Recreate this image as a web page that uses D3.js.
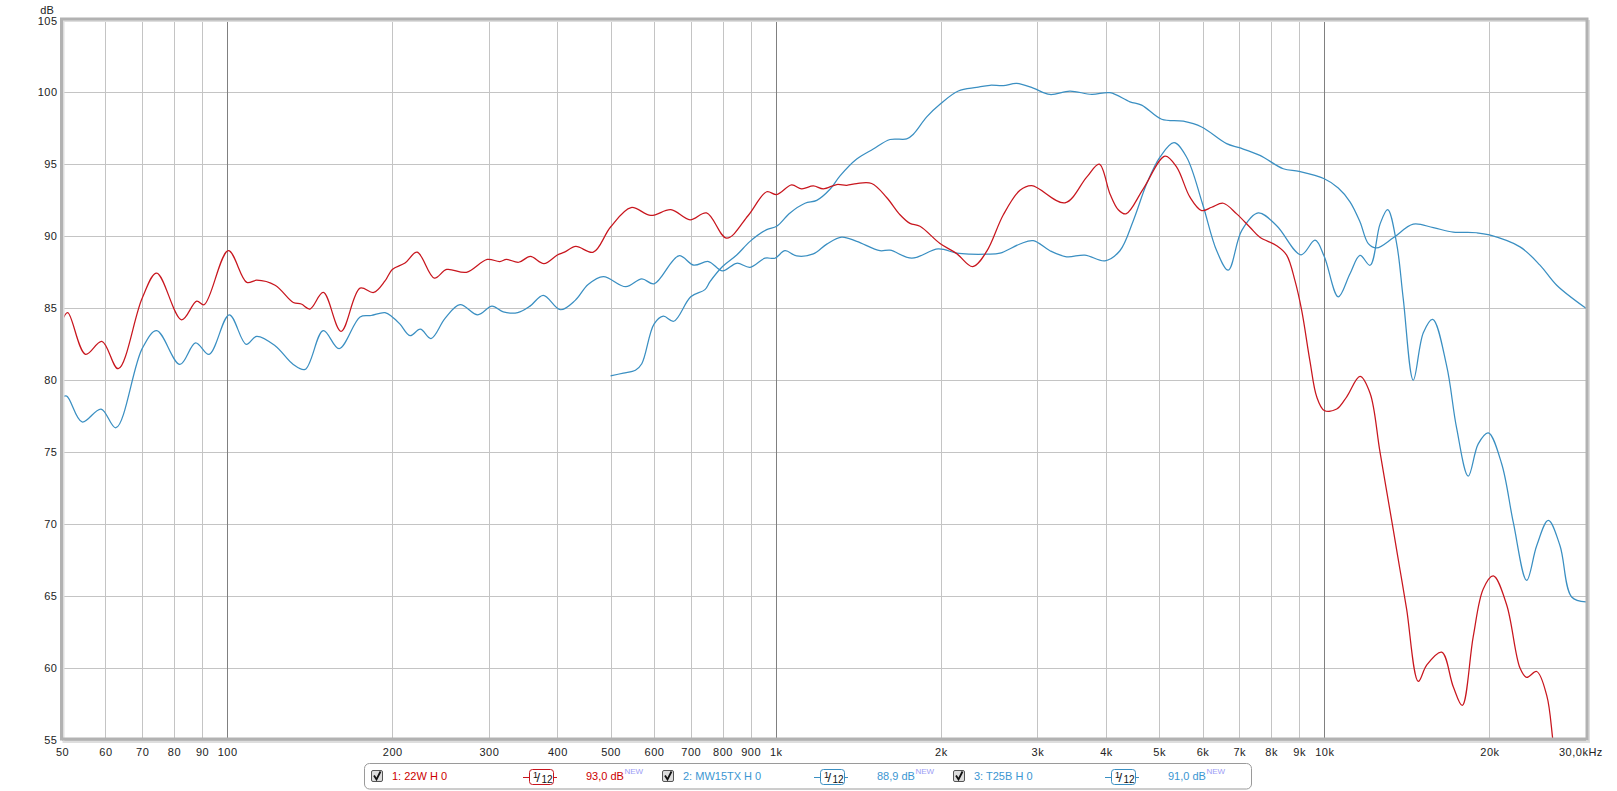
<!DOCTYPE html>
<html>
<head>
<meta charset="utf-8">
<script src="https://cdn.jsdelivr.net/npm/d3@7"></script>
<style>
  html, body { margin: 0; padding: 0; background: #ffffff; }
  svg { display: block; }
  text { font-family: "Liberation Sans", Arial, sans-serif; }
</style>
</head>
<body>
<svg id="chart" width="1617" height="791"></svg>
<script>
// ---------------- DATA ----------------
const freqTicks = [50,60,70,80,90,100,200,300,400,500,600,700,800,900,1000,2000,3000,4000,5000,6000,7000,8000,9000,10000,20000,30000];
const freqLabels = ["50","60","70","80","90","100","200","300","400","500","600","700","800","900","1k","2k","3k","4k","5k","6k","7k","8k","9k","10k","20k","30,0kHz"];
const dbTicks = [55,60,65,70,75,80,85,90,95,100,105];
const dbLabels = ["55","60","65","70","75","80","85","90","95","100","105"];

const f22W = [50,51.2,55.2,59.1,63.3,70,74.4,82.6,88,90.8,100.5,108.6,113.2,122.3,132,136.5,141.6,149.7,161.3,174.7,185,194,200,211,222,238.6,251.3,273,298,314,323,340,357,378,400,412,432,465,500,545,592,644,698,748,814,891,963,1004,1069,1115,1171,1221,1292,1347,1405,1496,1593,1685,1757,1832,1993,2138,2286,2424,2600,2788,2929,3367,3689,3889,4068,4212,4350,4678,5125,5382,5691,5977,6234,6545,6923,7320,7633,8189,8539,8845,9096,9420,9688,10000,10537,10988,11620,12120,12637,13361,13740,14130,14840,15370,16370,17185,17845,18690,19490,20330,21500,22740,23385,24390,25440,26085,26600];
const db22W = [84.1,84.7,81.8,82.7,80.8,85.7,87.45,84.2,85.5,85.25,89.0,86.8,86.95,86.6,85.4,85.3,84.95,86.1,83.4,86.4,86.1,86.9,87.7,88.15,88.9,87.1,87.7,87.5,88.4,88.25,88.4,88.2,88.6,88.1,88.7,88.9,89.3,88.9,90.65,92.0,91.45,91.85,91.15,91.63,89.88,91.45,93.1,92.9,93.57,93.3,93.5,93.3,93.6,93.55,93.67,93.67,92.7,91.5,90.9,90.7,89.5,88.8,87.9,88.95,91.5,93.2,93.53,92.33,94.12,95.02,92.95,91.85,91.56,93.3,95.58,94.81,92.72,91.79,92.02,92.3,91.56,90.63,89.93,89.35,88.7,86.9,84.85,81.3,78.85,77.9,78.0,78.85,80.27,79.1,75.0,69.6,66.85,64.1,59.07,60.2,61.1,58.7,57.4,62.2,65.5,66.4,64.4,60.0,59.35,59.76,58.1,55.1,52.0];

const fMW15TX = [50,51,54.4,58.9,62.7,70,74.4,82.0,87.6,92.7,100.9,108.3,113.2,122.3,132,138.7,149.7,160,174.7,183,194,200,206.6,215.5,225,235.3,249.6,265.8,286.3,304,318.7,338.6,356.6,377,405,431,455,485,533,570,600,666,709,754,800,849,898,956,997,1040,1092,1171,1239,1319,1405,1549,1616,1770,1978,2138,2260,2424,2564,2788,2948,3162,3391,3661,3983,4241,4486,4745,5017,5322,5612,6000,6367,6683,7070,7579,8189,9070,9621,10000,10605,11140,11620,12120,12637,13050,13550,13930,14530,15155,15765,16715,17430,18300,19085,19905,21055,22110,23385,24390,25610,26900,28245,30000];
const dbMW15TX = [78.8,78.9,77.1,78.0,76.7,82.2,83.45,81.1,82.6,81.8,84.55,82.5,83.05,82.4,81.1,80.75,83.45,82.2,84.4,84.5,84.7,84.4,83.9,83.1,83.55,82.9,84.3,85.25,84.55,85.15,84.75,84.7,85.15,85.9,84.9,85.55,86.65,87.2,86.5,87.05,86.7,88.65,88.0,88.25,87.6,88.13,87.85,88.48,88.48,89.0,88.64,88.78,89.46,89.95,89.65,89.0,89.04,88.48,89.13,88.83,88.76,88.76,88.83,89.47,89.7,89.0,88.58,88.7,88.3,89.0,91.09,93.65,95.5,96.51,95.5,92.25,89.0,87.65,90.4,91.63,90.74,88.72,89.73,88.6,85.8,87.4,88.67,87.99,90.85,91.86,89.5,85.67,80.0,83.3,84.23,81.0,76.67,73.34,75.58,76.34,74.2,70.12,66.1,68.5,70.26,68.5,64.94,64.6];

const fT25B = [500,527.5,555,570,600,624,652,700,743,759,800,849,898,963,1004,1062,1131,1188,1256,1310,1405,1506,1616,1733,1782,1885,2000,2152,2325,2458,2600,2750,2948,3162,3438,3768,4068,4424,4647,5053,5533,5977,6638,7000,7633,8418,9000,10000,10605,11140,11620,12030,12460,13361,14530,15805,17185,18960,20000,22740,24730,26530,30000];
const dbT25B = [80.3,80.5,80.7,81.15,83.9,84.45,84.1,85.8,86.3,86.85,87.9,88.7,89.65,90.47,90.7,91.63,92.3,92.5,93.27,94.2,95.37,96.07,96.73,96.77,97.1,98.3,99.23,100.1,100.35,100.5,100.47,100.63,100.3,99.86,100.1,99.86,99.98,99.35,99.12,98.14,98.0,97.6,96.44,96.16,95.63,94.7,94.51,94.0,93.36,92.4,91.0,89.5,89.2,89.9,90.85,90.6,90.3,90.25,90.1,89.27,88.0,86.6,85.0];

const legendNames = ["1: 22W H 0","2: MW15TX H 0","3: T25B H 0"];
const legendLevels = ["93,0 dB","88,9 dB","91,0 dB"];
const legendSmoothing = ["1","12"];

// ---------------- STYLE ----------------
const RED = "#c8161e", BLUE = "#3a8fc2";
const RED_TXT = "#cc0000", BLUE_TXT = "#3b96d2";

const svg = d3.select("#chart");
const X0 = 62, X1 = 1586, Y0 = 740, Y1 = 20.5;
const x = d3.scaleLog().domain([50, 30000]).range([X0, X1]);
const y = d3.scaleLinear().domain([55, 105]).range([Y0, Y1]);

// grid
const grid = svg.append("g");
grid.selectAll("line.h").data(dbTicks).enter().append("line")
  .attr("x1", X0).attr("x2", X1)
  .attr("y1", d => Math.round(y(d)) + 0.5).attr("y2", d => Math.round(y(d)) + 0.5)
  .attr("stroke", "#c4c4c4").attr("stroke-width", 1);
grid.selectAll("line.v").data(freqTicks.slice(1, -1)).enter().append("line")
  .attr("x1", d => Math.round(x(d)) + 0.5).attr("x2", d => Math.round(x(d)) + 0.5)
  .attr("y1", Y1).attr("y2", Y0)
  .attr("stroke", d => (d === 100 || d === 1000 || d === 10000) ? "#808080" : "#c4c4c4")
  .attr("stroke-width", 1);

// curves
svg.append("clipPath").attr("id", "clip").append("rect")
  .attr("x", X0).attr("y", Y1).attr("width", X1 - X0).attr("height", Y0 - Y1);
const line = d3.line().x(d => x(d[0])).y(d => y(d[1])).curve(d3.curveCatmullRom.alpha(0.5));
const series = [
  {f: fT25B, d: dbT25B, c: BLUE},
  {f: fMW15TX, d: dbMW15TX, c: BLUE},
  {f: f22W, d: db22W, c: RED}
];
const curves = svg.append("g").attr("clip-path", "url(#clip)");
series.forEach(s => {
  curves.append("path")
    .datum(s.f.map((f, i) => [f, s.d[i]]))
    .attr("d", line).attr("fill", "none")
    .attr("stroke", s.c).attr("stroke-width", 1.25);
});

// frame
svg.append("rect").attr("x", 63.5).attr("y", 21).attr("width", 1525.5).attr("height", 721)
  .attr("fill", "none").attr("stroke", "#dedede").attr("stroke-width", 2);
svg.append("rect").attr("x", 61.5).attr("y", 19).attr("width", 1525.5).attr("height", 720)
  .attr("fill", "none").attr("stroke", "#b2b2b2").attr("stroke-width", 3);

// axis labels
const axisFont = 11;
svg.append("text").attr("x", 47).attr("y", 14).attr("text-anchor", "middle")
  .attr("font-size", axisFont).attr("fill", "#222").text("dB");
svg.selectAll("text.yl").data(dbTicks).enter().append("text")
  .attr("x", 57.5).attr("y", d => y(d) + 4).attr("text-anchor", "end")
  .attr("font-size", axisFont).attr("letter-spacing", "0.5px").attr("fill", "#222")
  .text((d, i) => dbLabels[i]);
svg.selectAll("text.xl").data(freqTicks).enter().append("text")
  .attr("x", (d, i) => i === freqTicks.length - 1 ? 1559 : x(d) + 0.5)
  .attr("y", 755.5)
  .attr("text-anchor", (d, i) => i === freqTicks.length - 1 ? "start" : "middle")
  .attr("font-size", axisFont).attr("letter-spacing", "0.5px").attr("fill", "#222")
  .text((d, i) => freqLabels[i]);

// legend
const lg = svg.append("g");
lg.append("rect").attr("x", 364.5).attr("y", 763.5).attr("width", 887).attr("height", 25.5)
  .attr("rx", 5).attr("fill", "#fff").attr("stroke", "#9a9a9a").attr("stroke-width", 1);
const cols = [RED, BLUE, BLUE], tcols = [RED_TXT, BLUE_TXT, BLUE_TXT];
legendNames.forEach((name, i) => {
  const ox = i * 291;
  const g = lg.append("g").attr("transform", `translate(${ox},0)`);
  // checkbox
  g.append("rect").attr("x", 371.5).attr("y", 770.5).attr("width", 11).attr("height", 11)
    .attr("rx", 1.5).attr("fill", "#dcdcdc").attr("stroke", "#555").attr("stroke-width", 1);
  g.append("path").attr("d", "M374,775.5 L376.5,779.5 L380.5,771.5")
    .attr("fill", "none").attr("stroke", "#111").attr("stroke-width", 1.8);
  g.append("text").attr("x", 392).attr("y", 780).attr("font-size", 11)
    .attr("fill", tcols[i]).text(name);
  // smoothing icon
  g.append("line").attr("x1", 523).attr("x2", 557).attr("y1", 777.5).attr("y2", 777.5)
    .attr("stroke", cols[i]).attr("stroke-width", 1);
  g.append("rect").attr("x", 529.5).attr("y", 769.5).attr("width", 24).attr("height", 15)
    .attr("rx", 3).attr("fill", "#fff").attr("stroke", cols[i]).attr("stroke-width", 1);
  g.append("text").attr("x", 533).attr("y", 778).attr("font-size", 9).attr("fill", "#111").text(legendSmoothing[0]);
  g.append("text").attr("x", 536.5).attr("y", 782).attr("font-size", 13).attr("fill", "#111").text("/");
  g.append("text").attr("x", 541.5).attr("y", 782.5).attr("font-size", 10).attr("fill", "#111").text(legendSmoothing[1]);
  // level
  const lt = g.append("text").attr("x", 586).attr("y", 780).attr("font-size", 11)
    .attr("fill", tcols[i]).text(legendLevels[i]);
  const w = lt.node().getComputedTextLength();
  g.append("text").attr("x", 586 + w + 0.5).attr("y", 774).attr("font-size", 8)
    .attr("fill", "#9c9cf5").text("NEW");
});
</script>
</body>
</html>
